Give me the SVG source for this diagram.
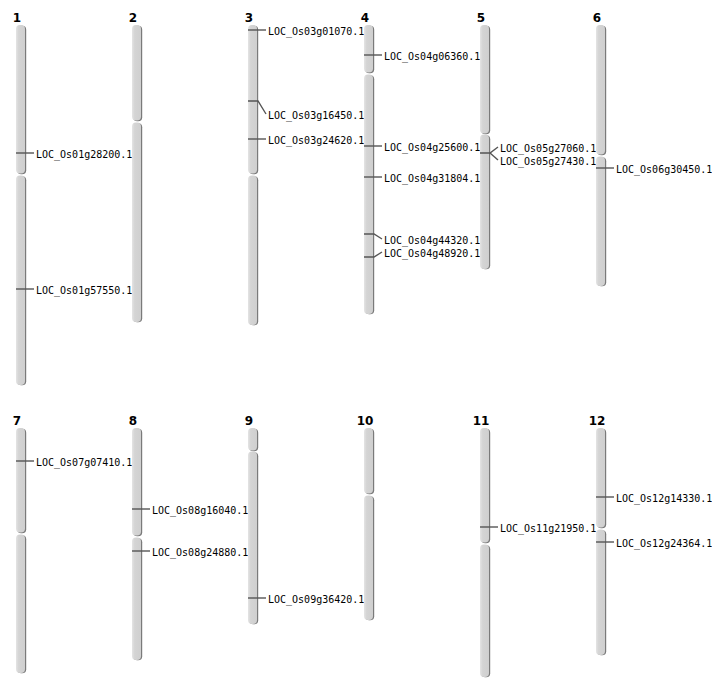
<svg xmlns="http://www.w3.org/2000/svg" width="712" height="700" viewBox="0 0 712 700">
<defs>
<linearGradient id="g" x1="0" y1="0" x2="1" y2="0">
<stop offset="0" stop-color="#e4e4e4"/>
<stop offset="0.3" stop-color="#d4d4d4"/>
<stop offset="1" stop-color="#cfcfcf"/>
</linearGradient>
</defs>
<style>
.sh{fill:#7a7a7a}
.arm{fill:url(#g)}
.num{font-family:"DejaVu Sans","Liberation Sans",sans-serif;font-weight:bold;font-size:12px;text-anchor:middle;fill:#000}
.lab{font-family:"DejaVu Sans Mono","Liberation Mono",monospace;font-size:10px;fill:#000}
.mk{stroke:#555;stroke-width:1.4;fill:none}
</style>
<rect width="712" height="700" fill="#fff"/>

<g id="chr1"><text class="num" x="17" y="22">1</text>
<rect class="sh" x="17.2" y="25.8" width="9" height="148.5" rx="4"/><rect class="arm" x="16" y="25" width="9" height="148.5" rx="4"/>
<rect class="sh" x="17.2" y="176.3" width="9" height="209" rx="4"/><rect class="arm" x="16" y="175.5" width="9" height="209.5" rx="4"/>
<text class="lab" x="36" y="157.5">LOC_Os01g28200.1</text>
<text class="lab" x="36" y="293.5">LOC_Os01g57550.1</text></g>

<g id="chr2"><text class="num" x="133" y="22">2</text>
<rect class="sh" x="133.2" y="25.8" width="9" height="95.5" rx="4"/><rect class="arm" x="132" y="25" width="9" height="95.5" rx="4"/>
<rect class="sh" x="133.2" y="123.3" width="9" height="199" rx="4"/><rect class="arm" x="132" y="122.5" width="9" height="199.5" rx="4"/></g>

<g id="chr3"><text class="num" x="249" y="22">3</text>
<rect class="sh" x="249.2" y="25.8" width="9" height="148.5" rx="4"/><rect class="arm" x="248" y="25" width="9" height="148.5" rx="4"/>
<rect class="sh" x="249.2" y="176.3" width="9" height="149" rx="4"/><rect class="arm" x="248" y="175.5" width="9" height="149.5" rx="4"/>
<text class="lab" x="268" y="34.5">LOC_Os03g01070.1</text>
<text class="lab" x="268" y="118.5">LOC_Os03g16450.1</text>
<text class="lab" x="268" y="143.5">LOC_Os03g24620.1</text></g>

<g id="chr4"><text class="num" x="365" y="22">4</text>
<rect class="sh" x="365.2" y="25.8" width="9" height="47.5" rx="4"/><rect class="arm" x="364" y="25" width="9" height="47.5" rx="4"/>
<rect class="sh" x="365.2" y="75.3" width="9" height="239" rx="4"/><rect class="arm" x="364" y="74.5" width="9" height="239.5" rx="4"/>
<text class="lab" x="384" y="59.5">LOC_Os04g06360.1</text>
<text class="lab" x="384" y="150.5">LOC_Os04g25600.1</text>
<text class="lab" x="384" y="181.5">LOC_Os04g31804.1</text>
<text class="lab" x="384" y="243.5">LOC_Os04g44320.1</text>
<text class="lab" x="384" y="256.5">LOC_Os04g48920.1</text></g>

<g id="chr5"><text class="num" x="481" y="22">5</text>
<rect class="sh" x="481.2" y="25.8" width="9" height="108.5" rx="4"/><rect class="arm" x="480" y="25" width="9" height="108.5" rx="4"/>
<rect class="sh" x="481.2" y="135.3" width="9" height="134" rx="4"/><rect class="arm" x="480" y="134.5" width="9" height="134.5" rx="4"/>
<text class="lab" x="500" y="151.5">LOC_Os05g27060.1</text>
<text class="lab" x="500" y="164.5">LOC_Os05g27430.1</text></g>

<g id="chr6"><text class="num" x="597" y="22">6</text>
<rect class="sh" x="597.2" y="25.8" width="9" height="129.5" rx="4"/><rect class="arm" x="596" y="25" width="9" height="129.5" rx="4"/>
<rect class="sh" x="597.2" y="157.3" width="9" height="129" rx="4"/><rect class="arm" x="596" y="156.5" width="9" height="129.5" rx="4"/>
<text class="lab" x="616" y="172.5">LOC_Os06g30450.1</text></g>

<g id="chr7"><text class="num" x="17" y="425">7</text>
<rect class="sh" x="17.2" y="428.8" width="9" height="104.5" rx="4"/><rect class="arm" x="16" y="428" width="9" height="104.5" rx="4"/>
<rect class="sh" x="17.2" y="535.3" width="9" height="138" rx="4"/><rect class="arm" x="16" y="534.5" width="9" height="138.5" rx="4"/>
<text class="lab" x="36" y="465.5">LOC_Os07g07410.1</text></g>

<g id="chr8"><text class="num" x="133" y="425">8</text>
<rect class="sh" x="133.2" y="428.8" width="9" height="107.5" rx="4"/><rect class="arm" x="132" y="428" width="9" height="107.5" rx="4"/>
<rect class="sh" x="133.2" y="538.3" width="9" height="122" rx="4"/><rect class="arm" x="132" y="537.5" width="9" height="122.5" rx="4"/>
<text class="lab" x="152" y="513.5">LOC_Os08g16040.1</text>
<text class="lab" x="152" y="555.5">LOC_Os08g24880.1</text></g>

<g id="chr9"><text class="num" x="249" y="425">9</text>
<rect class="sh" x="249.2" y="428.8" width="9" height="22.5" rx="4"/><rect class="arm" x="248" y="428" width="9" height="22.5" rx="4"/>
<rect class="sh" x="249.2" y="452.3" width="9" height="172" rx="4"/><rect class="arm" x="248" y="451.5" width="9" height="172.5" rx="4"/>
<text class="lab" x="268" y="602.5">LOC_Os09g36420.1</text></g>

<g id="chr10"><text class="num" x="365" y="425">10</text>
<rect class="sh" x="365.2" y="428.8" width="9" height="65.5" rx="4"/><rect class="arm" x="364" y="428" width="9" height="65.5" rx="4"/>
<rect class="sh" x="365.2" y="496.3" width="9" height="124" rx="4"/><rect class="arm" x="364" y="495.5" width="9" height="124.5" rx="4"/></g>

<g id="chr11"><text class="num" x="481" y="425">11</text>
<rect class="sh" x="481.2" y="428.8" width="9" height="114.5" rx="4"/><rect class="arm" x="480" y="428" width="9" height="114.5" rx="4"/>
<rect class="sh" x="481.2" y="545.3" width="9" height="132" rx="4"/><rect class="arm" x="480" y="544.5" width="9" height="132.5" rx="4"/>
<text class="lab" x="500" y="531.5">LOC_Os11g21950.1</text></g>

<g id="chr12"><text class="num" x="597" y="425">12</text>
<rect class="sh" x="597.2" y="428.8" width="9" height="99.5" rx="4"/><rect class="arm" x="596" y="428" width="9" height="99.5" rx="4"/>
<rect class="sh" x="597.2" y="530.3" width="9" height="125" rx="4"/><rect class="arm" x="596" y="529.5" width="9" height="125.5" rx="4"/>
<text class="lab" x="616" y="501.5">LOC_Os12g14330.1</text>
<text class="lab" x="616" y="546.5">LOC_Os12g24364.1</text></g>

<g id="connectors" class="mk">
<path d="M16 153H34"/>
<path d="M16 289H34"/>
<path d="M248 30H266"/>
<path d="M248 101H258L266 114"/>
<path d="M248 139H266"/>
<path d="M364 55H382"/>
<path d="M364 146H382"/>
<path d="M364 177H382"/>
<path d="M364 234H374L382 239"/>
<path d="M364 257H374L382 252"/>
<path d="M480 153H490L498 147"/>
<path d="M490 153L498 160"/>
<path d="M596 168H614"/>
<path d="M16 461H34"/>
<path d="M132 509H150"/>
<path d="M132 551H150"/>
<path d="M248 598H266"/>
<path d="M480 527H498"/>
<path d="M596 497H614"/>
<path d="M596 542H614"/>
</g>
</svg>
